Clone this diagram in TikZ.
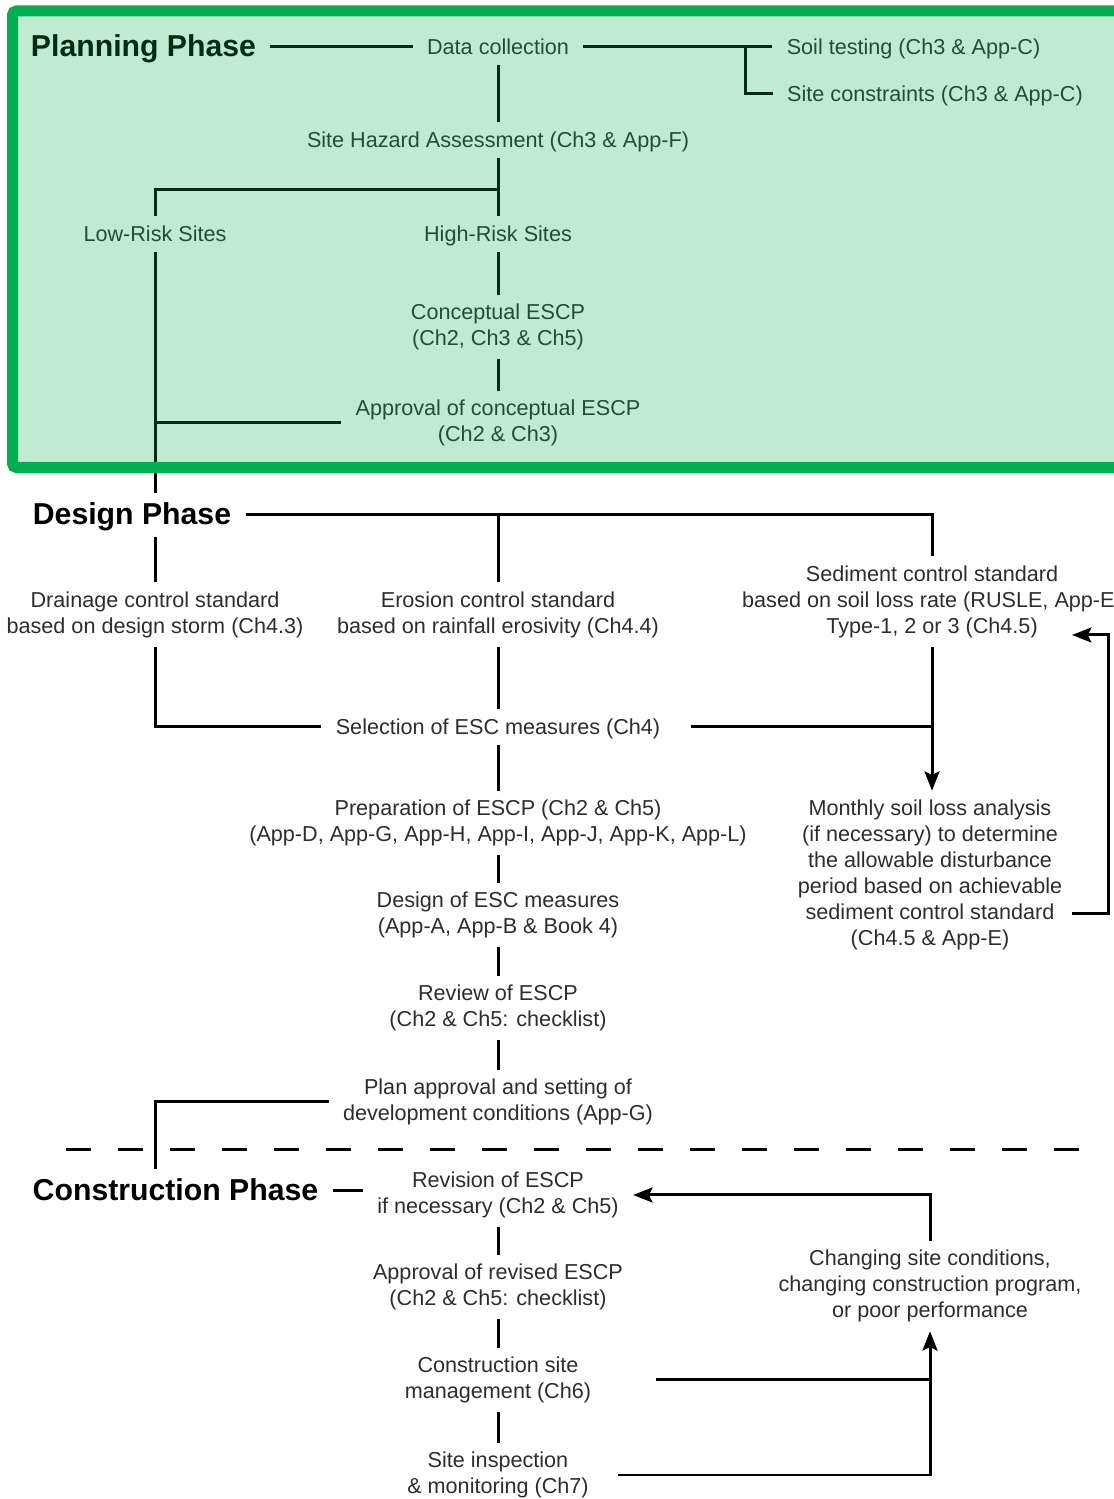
\documentclass[tikz,border=0pt]{standalone}
\usepackage{fontspec}
\setmainfont{Liberation Sans}
\usetikzlibrary{arrows.meta}
\definecolor{flowtext}{RGB}{45,45,45}
\definecolor{phasegreen}{RGB}{0,176,80}
\newcommand{\flowfont}{\fontsize{12.3}{14.8}\selectfont}
\newcommand{\phasefont}{\fontsize{17.2}{20}\selectfont\bfseries}
\tikzset{
  stage/.style={inner xsep=8pt, inner ysep=5pt, font=\flowfont, text=flowtext, text height=9.2pt, text depth=1.2pt},
  stagem/.style={inner xsep=8pt, inner ysep=5pt, font=\flowfont, text=flowtext, align=center},
  phase/.style={inner xsep=8pt, inner ysep=5pt, font=\phasefont, text=black, text height=12.9pt, text depth=1.7pt},
  flowline/.style={line width=0.060cm},
  flowarrow/.style={flowline, -{Stealth[length=11pt,width=8.5pt,inset=2pt]}},
  phasedash/.style={flowline, dash pattern=on 0.50cm off 0.54cm},
  planbox/.style={draw=phasegreen, line width=0.22cm, fill=phasegreen, fill opacity=0.25, rounded corners=0.08cm}
}
\begin{document}
\begin{tikzpicture}
                \useasboundingbox (0,0) rectangle (22.280000,29.980000);
                \clip (0,0) rectangle (22.280000,29.980000);

                % Marking stages of Planning Phase
                \node [phase] (pp) at (2.870000,29.040000) {Planning Phase};
                \node [stage] (dc) at (9.960000,29.040000) {Data collection};
                \node [stage] (st) at (18.270000,29.040000) {Soil testing (Ch3 \& App-C)};
                \node [stage] (sc) at (18.700000,28.100000) {Site constraints (Ch3 \& App-C)};
                \node [stage] (sha) at (9.960000,27.180000) {Site Hazard Assessment (Ch3 \& App-F)};
                \node [stage] (lrs) at (3.100000,25.300000) {Low-Risk Sites};
                \node [stage] (hrs) at (9.960000,25.300000) {High-Risk Sites};
                \node [stagem] (cep) at (9.960000,23.440000) {Conceptual ESCP\\(Ch2, Ch3 \& Ch5)};
                \node [stagem] (acp) at (9.960000,21.520000) {Approval of conceptual ESCP\\(Ch2 \& Ch3)};

                % Marking stages of Design Phase
                \node [phase] (dp) at (2.640000,19.680000) {Design Phase};
                \node [stagem] (dcs) at (3.100000,17.690000) {Drainage control standard\\based on design storm (Ch4.3)};
                \node [stagem] (ecs) at (9.960000,17.690000) {Erosion control standard\\based on rainfall erosivity (Ch4.4)};
                \node [stagem] (scs) at (18.640000,17.950000) {Sediment control standard\\based on soil loss rate (RUSLE, App-E)\\Type-1, 2 or 3 (Ch4.5)};
                \node [stage] (sel) at (9.960000,15.440000) {Selection of ESC measures (Ch4)};
                \node [stagem] (msl) at (18.600000,12.480000) {Monthly soil loss analysis\\(if necessary) to determine\\the allowable disturbance\\period based on achievable\\sediment control standard\\(Ch4.5 \& App-E)};
                \node [stagem] (prep) at (9.960000,13.520000) {Preparation of ESCP (Ch2 \& Ch5)\\(App-D, App-G, App-H, App-I, App-J, App-K, App-L)};
                \node [stagem] (des) at (9.960000,11.680000) {Design of ESC measures\\(App-A, App-B \& Book 4)};
                \node [stagem] (rvw) at (9.960000,9.820000) {Review of ESCP\\(Ch2 \& Ch5: checklist)};
                \node [stagem] (pa) at (9.960000,7.940000) {Plan approval and setting of\\development conditions (App-G)};

                % Marking stages of Construction Phase
                \node [phase] (cp) at (3.510000,6.160000) {Construction Phase};
                \node [stagem] (rev) at (9.960000,6.080000) {Revision of ESCP\\if necessary (Ch2 \& Ch5)};
                \node [stagem] (csc) at (18.600000,4.260000) {Changing site conditions,\\changing construction program,\\or poor performance};
                \node [stagem] (arv) at (9.960000,4.240000) {Approval of revised ESCP\\(Ch2 \& Ch5: checklist)};
                \node [stagem] (csm) at (9.960000,2.380000) {Construction site\\management (Ch6)};
                \node [stagem] (sim) at (9.960000,0.480000) {Site inspection\\\& monitoring (Ch7)};

                % Marking junctions
                \coordinate (dcbr) at (14.900000,29.040000);
                \coordinate (hzbr) at (9.960000,26.180000);
                \coordinate (fbA) at (21.440000,11.700000);
                \coordinate (fbB) at (21.440000,17.280000);

                % Drawing lines of Planning Phase
                \draw [flowline] (pp) -- (dc);
                \draw [flowline] (dc) -- (st);
                \draw [flowline] (dcbr) |- (sc);
                \draw [flowline] (dc) -- (sha);
                \draw [flowline] (sha) -- (hrs);
                \draw [flowline] (hzbr) -| (lrs);
                \draw [flowline] (hrs) -- (cep);
                \draw [flowline] (cep) -- (acp);
                \draw [flowline] (acp) -- (acp -| lrs);
                \draw [flowline] (lrs) -- (lrs |- dp.north);

                % Drawing lines of Design Phase
                \draw [flowline] (lrs |- dp.south) -- (dcs);
                \draw [flowline] (dp) -| (scs);
                \draw [flowline] (dp -| ecs) -- (ecs);
                \draw [flowline] (dcs) |- (sel);
                \draw [flowline] (ecs) -- (sel);
                \draw [flowline, shorten <=0.320000cm] (sel) -- (sel -| scs);
                \draw [flowarrow] (scs) -- (scs |- msl.north);
                \draw [flowarrow] (fbA) -- ++(0.720000,0) |- (fbB);
                \draw [flowline] (sel) -- (prep);
                \draw [flowline] (prep) -- (des);
                \draw [flowline] (des) -- (rvw);
                \draw [flowline] (rvw) -- (pa);
                \draw [flowline] (pa) -| (lrs |- cp.north);

                % Drawing phase border
                \draw [phasedash] (1.320000,6.980000) -- (21.700000,6.980000);

                % Drawing lines of Construction Phase
                \draw [flowline] (cp) -- (cp -| rev.west);
                \draw [flowarrow] (csc) |- (rev);
                \draw [flowline] (rev) -- (arv);
                \draw [flowline] (arv) -- (csm);
                \draw [flowline] (csm) -- (sim);
                \draw [flowline, shorten <=1.000000cm] (csm) -- (csm -| csc);
                \draw [flowarrow, shorten <=0.300000cm] (sim) -| (csc);

                % Drawing planning box
                \draw [planbox] (0.250000,29.760000) rectangle (22.500000,20.630000);
\end{tikzpicture}
\end{document}
